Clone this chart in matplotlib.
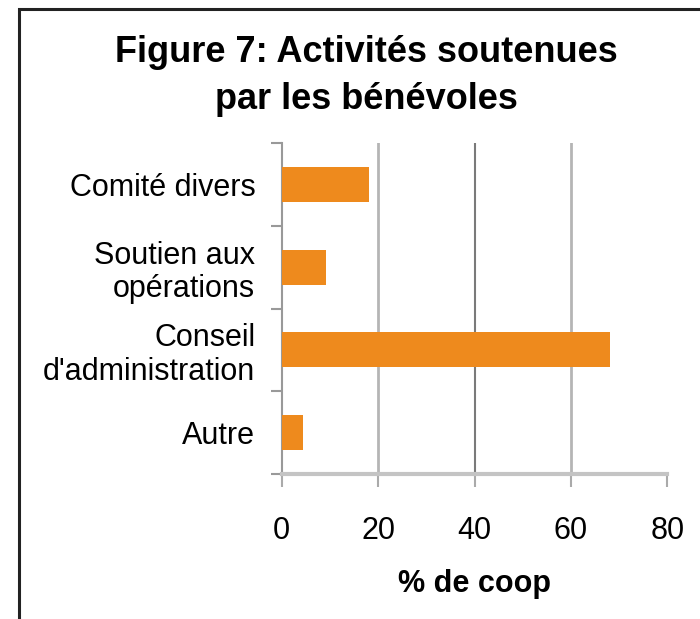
import matplotlib
matplotlib.use("Agg")
import matplotlib.pyplot as plt
from matplotlib.patches import Rectangle

categories = ["Comité divers", "Soutien aux\nopérations", "Conseil\nd'administration", "Autre"]
values = [18.2, 9.2, 68.1, 4.5]
xticks = [0, 20, 40, 60, 80]
title = "Figure 7: Activités soutenues\npar les bénévoles"
xlabel = "% de coop"

plt.rcParams['font.family'] = ['Liberation Sans', 'DejaVu Sans']

W, H = 700, 619
fig = plt.figure(figsize=(W / 100, H / 100), dpi=100)
ax = fig.add_axes([281.7 / W, 1 - 474 / H, (667.3 - 281.7) / W, (474 - 143) / H])

ypos = list(range(len(categories)))
ax.barh(ypos, values, height=0.42, color="#EE8A1D", zorder=3)

ax.set_xlim(0, 80)
ax.set_ylim(len(categories) - 0.5, -0.5)
ax.set_xticks(xticks)
ax.set_xticklabels([str(v) for v in xticks], fontsize=22)
ax.set_yticks(ypos)
ax.set_yticklabels(categories, fontsize=22, linespacing=1.15)
ax.set_yticks([i - 0.5 for i in range(len(categories) + 1)], minor=True)
ax.tick_params(axis='y', which='major', length=0, pad=19)
ax.tick_params(axis='y', which='minor', length=8, width=1.5, color="#999999", direction='out')
ax.tick_params(axis='x', which='major', length=9, width=1.5, color="#aaaaaa", pad=21)

ax.grid(axis='x', color="#b5b5b5", linewidth=2, zorder=0)
gl = ax.get_xgridlines()
gl[0].set_visible(False)
gl[-1].set_visible(False)
gl[2].set_color("#7a7a7a")
gl[2].set_linewidth(1.5)

for s in ["top", "right"]:
    ax.spines[s].set_visible(False)
ax.spines["left"].set_color("#999999")
ax.spines["left"].set_linewidth(1.5)
ax.spines["bottom"].set_color("#c4c4c4")
ax.spines["bottom"].set_linewidth(3)

ax.set_xlabel(xlabel, fontsize=22, fontweight='bold', labelpad=17)

fig.text(366 / W, 1 - 76 / H, title, ha='center', va='center', fontsize=26,
         fontweight='bold', linespacing=1.45)

fig.patches.append(Rectangle((19 / W, -0.1), 1.2, 1 - 9 / H + 0.1, transform=fig.transFigure,
                             fill=False, edgecolor="#222222", linewidth=2.2))

fig.savefig("out.png", dpi=100)
